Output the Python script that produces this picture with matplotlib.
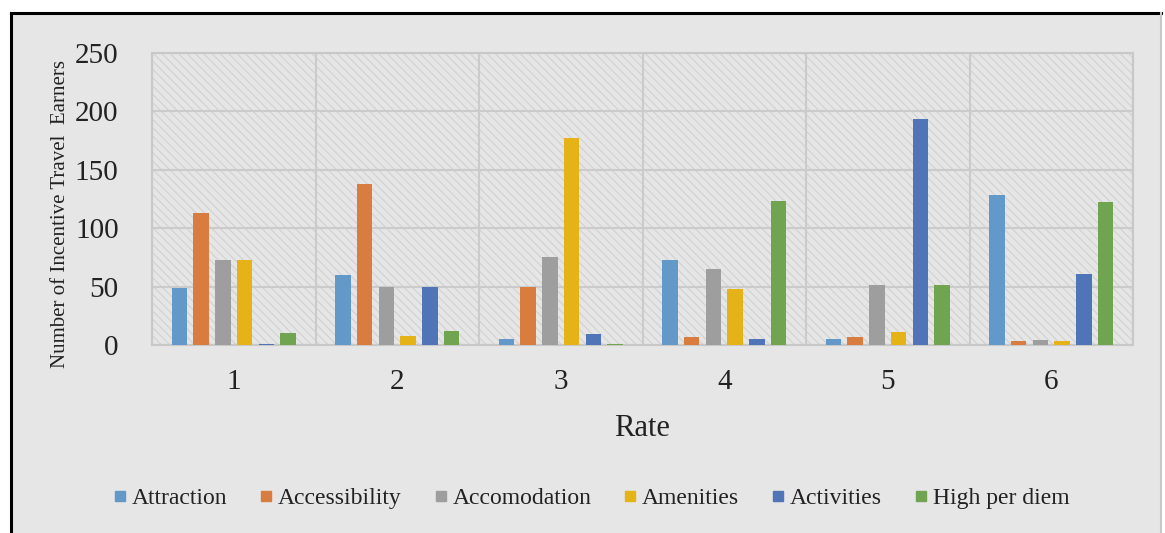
import numpy as np
import matplotlib.pyplot as plt
from matplotlib.patches import Rectangle
from matplotlib.lines import Line2D

# Оценки по шкале 1..6 для каждого фактора
rates = ['1', '2', '3', '4', '5', '6']
attraction = [49, 60, 5, 73, 5, 128]
accessibility = [113, 138, 50, 7, 7, 3]
accomodation = [73, 50, 75, 65, 51, 4]
amenities = [73, 8, 177, 48, 11, 3]
activities = [1, 50, 9, 5, 193, 61]
high_per_diem = [10, 12, 1, 123, 51, 122]

series_names = ['Attraction', 'Accessibility', 'Accomodation',
                'Amenities', 'Activities', 'High per diem']
series_values = [attraction, accessibility, accomodation,
                 amenities, activities, high_per_diem]
colors = ['#6399c8', '#d97c40', '#9e9e9e', '#e5b218', '#4f74b8', '#70a450']

serif = ['Liberation Serif', 'DejaVu Serif']
plt.rcParams['font.family'] = serif
plt.rcParams['hatch.linewidth'] = 0.9

fig = plt.figure(figsize=(11.65, 5.33), dpi=100, facecolor='white')

# Серый фон с рамкой
W, H = 1165, 533
fig.patches.append(Rectangle((11 / W, 0), 1150 / W, 1 - 14 / H,
                             transform=fig.transFigure, facecolor='#e6e6e6',
                             edgecolor='none', zorder=-10))
fig.lines.append(Line2D([11 / W, 11 / W], [0, 1 - 13 / H],
                        transform=fig.transFigure, color='black', lw=2.2))
fig.lines.append(Line2D([11 / W, 1161 / W], [1 - 13 / H, 1 - 13 / H],
                        transform=fig.transFigure, color='black', lw=2.2))
fig.lines.append(Line2D([1161 / W, 1161 / W], [0, 1 - 13 / H],
                        transform=fig.transFigure, color='#c8c8c8', lw=1.5))

ax = fig.add_axes([152 / W, 1 - 345 / H, (1133 - 152) / W, (345 - 52.7) / H])
ax.set_facecolor('#e6e6e6')
ax.add_patch(Rectangle((0, 0), 1, 1, transform=ax.transAxes, facecolor='none',
                       edgecolor='#d3d3d3', hatch='\\\\\\\\', lw=0, zorder=0))

x = np.arange(len(rates))
step = 0.133
width = 0.094
for i, (name, vals, c) in enumerate(zip(series_names, series_values, colors)):
    ax.bar(x + (i - 2.5) * step, vals, width, color=c, linewidth=0,
           label=name, zorder=3)

ax.set_xlim(-0.5, len(rates) - 0.5)
ax.set_ylim(0, 250)
ax.set_yticks(range(0, 251, 50))
ax.set_xticks(x)
ax.set_xticklabels(rates)
ax.set_xticks(np.arange(-0.5, len(rates), 1), minor=True)

ax.grid(axis='y', color='#cbcbcb', lw=1.5, zorder=1)
ax.grid(axis='x', which='minor', color='#cbcbcb', lw=1.5, zorder=1)
ax.grid(axis='x', which='major', visible=False)
for s in ax.spines.values():
    s.set_color('#c8c8c8')
    s.set_linewidth(1.5)
    s.set_zorder(2)

ax.tick_params(axis='both', which='both', length=0, labelsize=21,
               labelcolor='#222222')
ax.tick_params(axis='y', pad=24)
ax.tick_params(axis='x', pad=17)

fig.text(61 / W, 1 - 214 / H, 'Number of Incentive Travel  Earners',
         rotation=90, ha='center', va='center', fontsize=15, color='#222222')
fig.text(642 / W, 1 - 428 / H, 'Rate', ha='center', va='center',
         fontsize=22, color='#222222')

handles = [Line2D([], [], marker='s', ls='none', markersize=7, color=c)
           for c in colors]
fig.legend(handles, series_names, loc='center', ncol=6, frameon=False,
           bbox_to_anchor=(590 / W, 1 - 498 / H), fontsize=17,
           handletextpad=0.1, columnspacing=1.25, handlelength=0.8,
           labelcolor='#222222')

fig.savefig('out.png', dpi=100, facecolor='white')
